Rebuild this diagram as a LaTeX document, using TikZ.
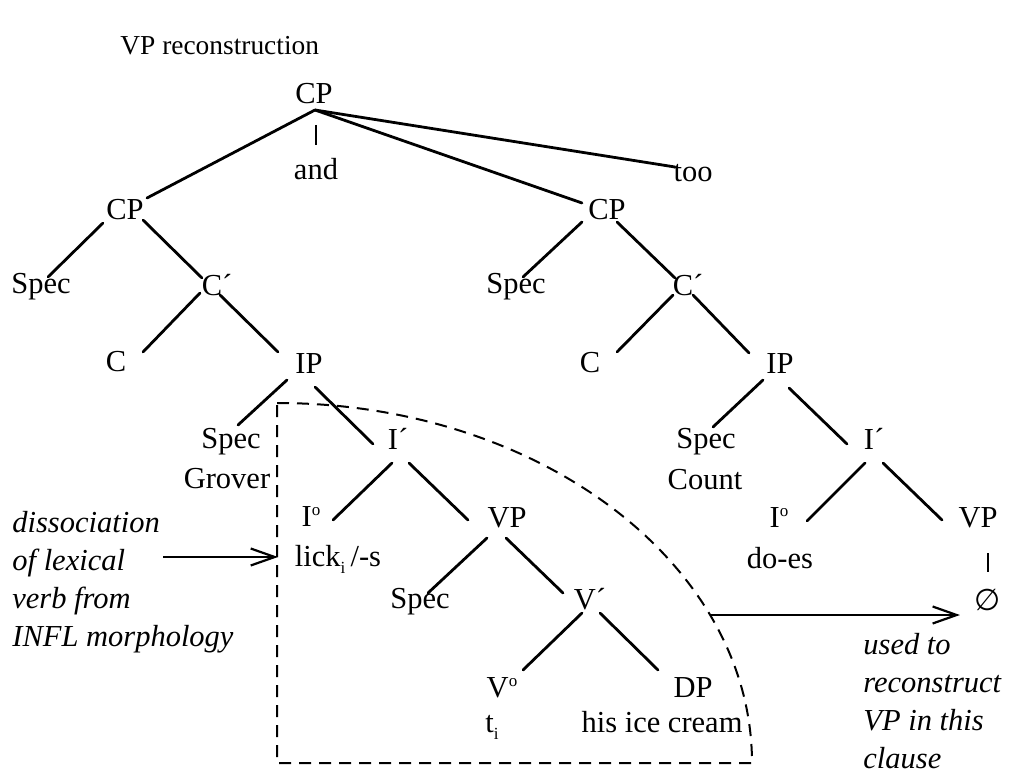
\documentclass[tikz,border=0pt]{standalone}
\usepackage{fontspec}
\setmainfont{Liberation Serif}
\newfontfamily\symbfont{DejaVu Sans}
\usetikzlibrary{arrows.meta}
% one edge of the tree: parent node with offset, child node with offset
\newcommand\treeedge[4]{\draw[branch] ([shift={(#2)}]#1.center) -- ([shift={(#4)}]#3.center);}
% small raised "o" of the head labels
\newcommand\headmark{\raisebox{0.36em}{\fontsize{8.5}{9}\selectfont o}}
% small lowered index
\newcommand\idx[1]{\raisebox{-0.22em}{\fontsize{8.5}{9}\selectfont #1}}
\begin{document}
\begin{tikzpicture}[x=0.5pt,y=-0.5pt,
  font=\fontsize{15.25}{19}\selectfont,
  lbl/.style={inner sep=0pt, text height=0.66em, text depth=0pt, anchor=center},
  branch/.style={line width=1.4pt, line cap=round},
  stem/.style={line width=1.2pt},
  region/.style={line width=1pt, dash pattern=on 6pt off 4pt},
  pointer/.style={line width=1.1pt, -{Straight Barb[length=12pt,width=8.5pt,line width=1.1pt]}},
  note/.style={font=\fontsize{15.25}{19}\selectfont\itshape, align=left, inner sep=0pt, anchor=north west}]
\useasboundingbox (0,0) rectangle (1011,775);

% title
\node[inner sep=0pt, anchor=base west, font=\fontsize{13.7}{16}\selectfont] (title) at (120,55) {VP reconstruction};

% coordinated CP
\node[lbl] (CP0) at (314,97) {CP};
\coordinate (apex) at (315,110);
\node[lbl] (and) at (316,173) {and};
\node[lbl] (too) at (693,175) {too};

% first conjunct
\node[lbl] (CPl) at (125,213) {CP};
\node[lbl] (SpecL) at (41,287) {Spec};
\node[lbl] (CbL) at (217,289) {C´};
\node[lbl] (CL) at (116,365) {C};
\node[lbl] (IPL) at (309,367) {IP};
\node[lbl] (SpecG) at (231,442) {Spec};
\node[lbl] (Grover) at (227,482) {Grover};
\node[lbl] (IbL) at (398,443) {I´};
\node[lbl] (I0L) at (311,520) {I\headmark};
\node[lbl] (lick) at (338,560) {lick\idx{i}\,/-s};
\node[lbl] (VPL) at (507,521) {VP};
\node[lbl] (SpecV) at (420,602) {Spec};
\node[lbl] (VbL) at (590,603) {V´};
\node[lbl] (V0L) at (502,691) {V\headmark};
\node[lbl] (ti) at (492,726) {t\idx{i}};
\node[lbl] (DP) at (693,691) {DP};
\node[lbl] (hic) at (662,726) {his ice cream};

% second conjunct
\node[lbl] (CPr) at (607,213) {CP};
\node[lbl] (SpecR) at (516,287) {Spec};
\node[lbl] (CbR) at (688,289) {C´};
\node[lbl] (CR) at (590,366) {C};
\node[lbl] (IPR) at (780,367) {IP};
\node[lbl] (SpecC) at (706,442) {Spec};
\node[lbl] (Count) at (705,483) {Count};
\node[lbl] (IbR) at (874,443) {I´};
\node[lbl] (I0R) at (779,521) {I\headmark};
\node[lbl] (does) at (780,562) {do-es};
\node[lbl] (VPR) at (978,521) {VP};
\node[inner sep=0pt, anchor=center, font=\fontsize{15}{16}\symbfont] (phi) at (988,600) {∅};

% branches from the top CP
\draw[branch] (apex) -- ([shift={(22,-15)}]CPl.center);
\draw[branch] (apex) -- ([shift={(-25,-10)}]CPr.center);
\draw[branch] (apex) -- ([shift={(-18,-8)}]too.center);
\draw[stem] ([shift={(2,28)}]CP0.center) -- ([shift={(0,-28)}]and.center);

% first conjunct branches
\treeedge{CPl}{-22,10}{SpecL}{7,-10}
\treeedge{CPl}{18,7}{CbL}{-15,-11}
\treeedge{CbL}{-17,4}{CL}{27,-13}
\treeedge{CbL}{3,6}{IPL}{-31,-15}
\treeedge{IPL}{-22,13}{SpecG}{7,-17}
\treeedge{IPL}{6,20}{IbL}{-25,1}
\treeedge{IbL}{-6,20}{I0L}{22,0}
\treeedge{IbL}{11,20}{VPL}{-39,-1}
\treeedge{VPL}{-20,17}{SpecV}{8,-9}
\treeedge{VPL}{-1,17}{VbL}{-27,-10}
\treeedge{VbL}{-8,10}{V0L}{21,-21}
\treeedge{VbL}{10,10}{DP}{-35,-21}

% second conjunct branches
\treeedge{CPr}{-25,9}{SpecR}{7,-10}
\treeedge{CPr}{10,9}{CbR}{-13,-11}
\treeedge{CbR}{-15,6}{CR}{27,-14}
\treeedge{CbR}{5,6}{IPR}{-31,-14}
\treeedge{IPR}{-17,13}{SpecC}{7,-15}
\treeedge{IPR}{9,21}{IbR}{-27,1}
\treeedge{IbR}{-9,20}{I0R}{28,0}
\treeedge{IbR}{9,20}{VPR}{-36,-1}
\draw[stem] ([shift={(10,32)}]VPR.center) -- ([shift={(0,-28)}]phi.center);

% region of the copied VP
\draw[region] (277,403) arc[start angle=90, end angle=0, x radius=237.5pt, y radius=180pt] -- (752,763) -- (277,763) -- cycle;
\coordinate (boxW) at (278,557);
\coordinate (boxE) at (710,615);

% annotations
\node[note] (leftnote) at (12,511) {dissociation\\of lexical\\verb from\\INFL morphology};
\coordinate (leftfrom) at (163,557);
\draw[pointer] (leftfrom) -- (boxW);

\node[note] (rightnote) at (863,633) {used to\\reconstruct\\VP in this\\clause};
\draw[pointer, shorten >=7.3pt] (boxE) -- (boxE -| phi.west);
\end{tikzpicture}
\end{document}
